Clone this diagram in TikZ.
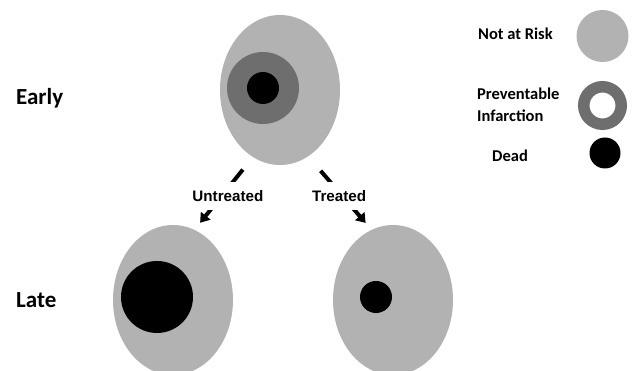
\documentclass[tikz,border=0pt]{standalone}
\usepackage{fontspec}
\setmainfont{Carlito}
\newfontfamily\labelfont{Liberation Sans}
\usetikzlibrary{arrows.meta, shapes.geometric}

\begin{document}
\begin{tikzpicture}[
    x=1pt, y=1pt,
    tissue/.style={ellipse, fill=black!30, minimum width=120pt, minimum height=150pt, inner sep=0pt},
    zone/.style={circle, fill=black!57, minimum size=72pt, inner sep=0pt},
    core/.style={circle, fill=black, inner sep=0pt},
    stage/.style={font=\fontsize{23}{27}\selectfont\bfseries, anchor=base west, inner sep=0pt},
    key/.style={font=\fontsize{16.5}{22}\selectfont\bfseries, align=left, inner sep=0pt},
    lbl/.style={fill=white, font=\labelfont\fontsize{15.2}{18}\selectfont\bfseries, inner xsep=2pt, minimum height=28pt},
    arr/.style={-{Triangle[length=9pt, width=12pt]}, line width=4pt, draw=black}
]
    \useasboundingbox (0,0) rectangle (633,-371);

    % stages
    \node[stage] (earlytxt) at (16,-105) {Early};
    \node[stage] (latetxt) at (16,-308) {Late};

    % early infarct
    \node[tissue] (earlyheart) at (280,-90) {};
    \node[zone] (earlyzone) at (263,-88) {};
    \node[core, minimum size=32pt] (earlycore) at (263,-88) {};

    % late infarcts
    \node[tissue] (untrheart) at (173,-300) {};
    \node[core, minimum size=72pt] (untrcore) at (157,-297) {};
    \node[tissue] (trtheart) at (393,-300) {};
    \node[core, minimum size=32pt] (trtcore) at (376,-297) {};

    \draw[arr, shorten <=16pt, shorten >=9pt] (earlyheart.248) -- node[lbl, pos=0.53, xshift=6pt] {Untreated} (untrheart.73);
    \draw[arr, shorten <=19pt, shorten >=9pt] (earlyheart.293) -- node[lbl, pos=0.536, xshift=-3pt] {Treated} (trtheart.107);

    % legend
    \node[key, anchor=base west] (riskkey) at (478,-40) {Not at Risk};
    \node[circle, fill=black!30, minimum size=52pt, inner sep=0pt] (riskdot) at (602.5,-36) {};
    \node[key, anchor=west] (infkey) at (477,-104.3) {Preventable\\Infarction};
    \node[circle, draw=black!57, line width=11.5pt, fill=white, minimum size=37.5pt, inner sep=0pt] (infdot) at (602.5,-105.5) {};
    \node[key, anchor=base west] (deadkey) at (492,-162) {Dead};
    \node[core, minimum size=31pt] (deaddot) at (605,-153) {};
\end{tikzpicture}
\end{document}
